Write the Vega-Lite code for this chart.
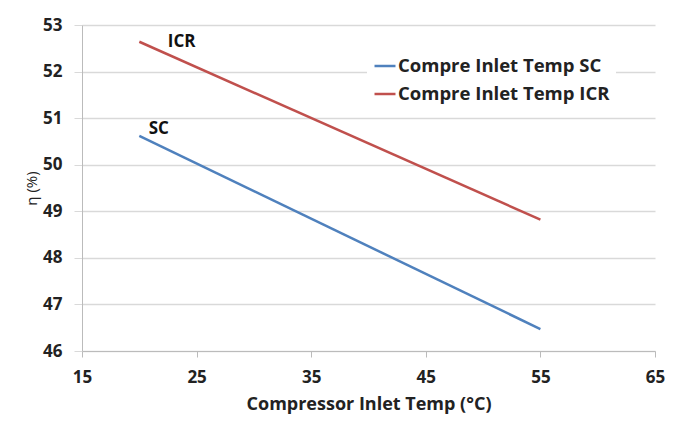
{
  "$schema": "https://vega.github.io/schema/vega-lite/v6.json",
  "autosize": {"type": "none"},
  "padding": {"left": 82, "top": 25, "right": 28, "bottom": 70},
  "width": 573,
  "height": 326,
  "background": "white",
  "config": {
    "view": {"stroke": null},
    "font": "Open Sans"
  },
  "datasets": {
    "lines": [
      {"temp": 20, "eta": 50.62, "series": "Compre Inlet Temp SC"},
      {"temp": 55, "eta": 46.47, "series": "Compre Inlet Temp SC"},
      {"temp": 20, "eta": 52.64, "series": "Compre Inlet Temp ICR"},
      {"temp": 55, "eta": 48.82, "series": "Compre Inlet Temp ICR"}
    ],
    "labels": [
      {"temp": 23.7, "eta": 52.64, "text": "ICR"},
      {"temp": 21.7, "eta": 50.76, "text": "SC"}
    ]
  },
  "layer": [
    {
      "data": {"name": "lines"},
      "mark": {"type": "line", "strokeWidth": 2.5},
      "encoding": {
        "x": {
          "field": "temp", "type": "quantitative",
          "scale": {"domain": [15, 65], "nice": false, "zero": false},
          "axis": {
            "values": [15, 25, 35, 45, 55, 65],
            "title": "Compressor Inlet Temp (°C)",
            "titleFontSize": 18, "titleFontWeight": "bold", "titleColor": "#222222",
            "titlePadding": 10,
            "labelFontSize": 17, "labelFontWeight": "bold", "labelColor": "#222222",
            "labelFlush": false,
            "labelPadding": 12, "tickSize": 6, "tickColor": "#BBBBBB",
            "domainColor": "#BBBBBB", "grid": false
          }
        },
        "y": {
          "field": "eta", "type": "quantitative",
          "scale": {"domain": [46, 53], "nice": false, "zero": false},
          "axis": {
            "values": [46, 47, 48, 49, 50, 51, 52, 53],
            "title": "η (%)",
            "titleFontSize": 15, "titleFontWeight": "normal", "titleColor": "#222222",
            "titlePadding": 3,
            "labelFontSize": 17, "labelFontWeight": "bold", "labelColor": "#222222",
            "labelFlush": false,
            "labelPadding": 12, "tickSize": 8, "tickColor": "#D9D9D9",
            "domainColor": "#BBBBBB",
            "grid": true, "gridColor": "#D9D9D9", "gridWidth": 1.5
          }
        },
        "color": {
          "field": "series", "type": "nominal",
          "sort": ["Compre Inlet Temp SC", "Compre Inlet Temp ICR"],
          "scale": {
            "domain": ["Compre Inlet Temp SC", "Compre Inlet Temp ICR"],
            "range": ["#4F81BD", "#C0504D"]
          },
          "legend": {
            "title": null,
            "orient": "none",
            "legendX": 285,
            "legendY": 23,
            "symbolType": "stroke",
            "symbolSize": 440,
            "symbolStrokeWidth": 2.5,
            "labelFontSize": 18.5,
            "labelFontWeight": "bold",
            "labelColor": "#222222",
            "labelLimit": 0,
            "labelOffset": 1,
            "rowPadding": 6,
            "fillColor": "white",
            "padding": 6
          }
        }
      }
    },
    {
      "data": {"name": "labels"},
      "mark": {"type": "text", "fontSize": 17, "fontWeight": "bold", "color": "#111111"},
      "encoding": {
        "x": {"field": "temp", "type": "quantitative"},
        "y": {"field": "eta", "type": "quantitative"},
        "text": {"field": "text", "type": "nominal"}
      }
    }
  ]
}
